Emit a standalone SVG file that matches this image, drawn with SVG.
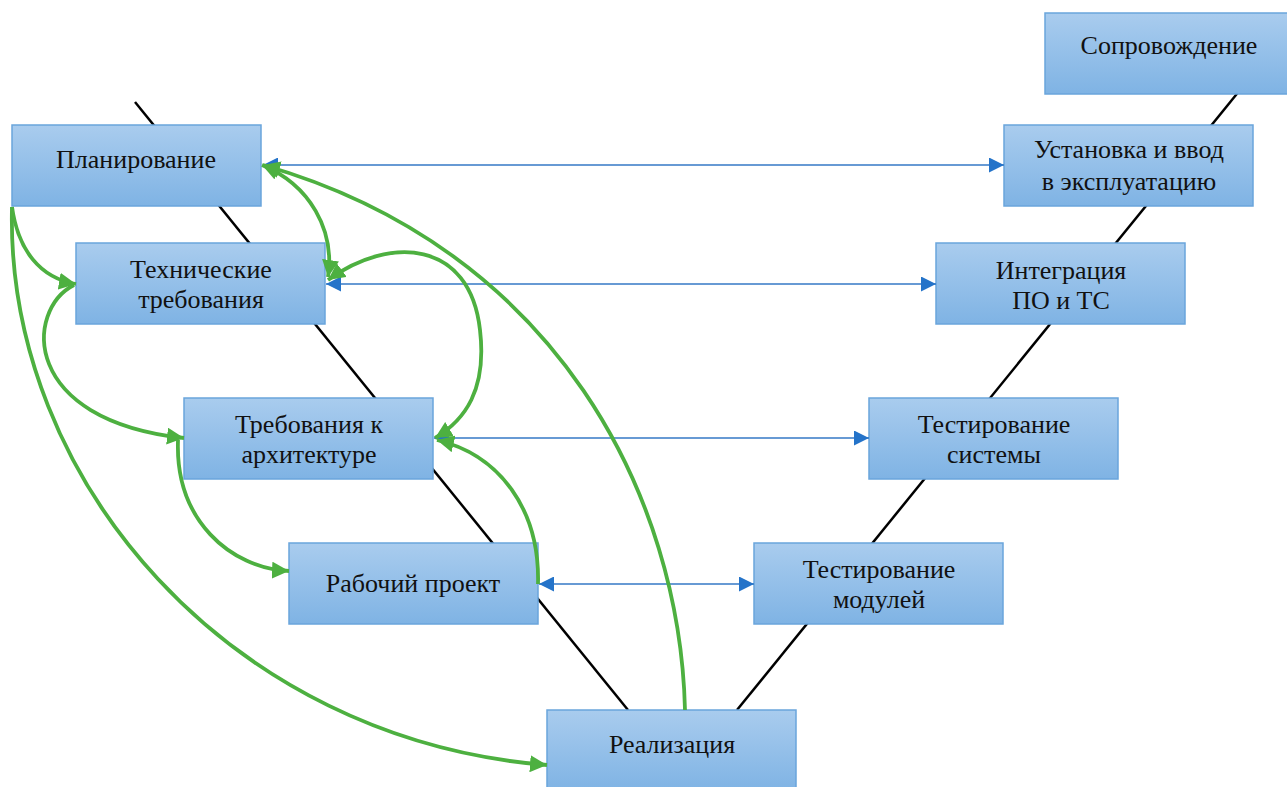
<svg xmlns="http://www.w3.org/2000/svg" width="1287" height="787" viewBox="0 0 1287 787">
<defs>
<linearGradient id="bg" x1="0" y1="0" x2="0" y2="1">
<stop offset="0" stop-color="#a9ccee"/>
<stop offset="1" stop-color="#7fb3e4"/>
</linearGradient>
<marker id="bh" viewBox="0 0 10 10" refX="10" refY="5" markerWidth="16" markerHeight="15" markerUnits="userSpaceOnUse" orient="auto-start-reverse">
<path d="M0,0 L10,5 L0,10 z" fill="#2473c9"/>
</marker>
<marker id="gh" viewBox="0 0 10 10" refX="10" refY="5" markerWidth="17" markerHeight="17" markerUnits="userSpaceOnUse" orient="auto-start-reverse">
<path d="M0,0 L10,5 L0,10 z" fill="#4db040"/>
</marker>
<style>
.box{fill:url(#bg);stroke:#6aa5dc;stroke-width:1.5}
.t{font-family:"Liberation Serif","Times New Roman",serif;font-size:26px;fill:#111;text-anchor:middle}
.v{stroke:#000;stroke-width:2.5;fill:none}
.b{stroke:#3579c6;stroke-width:1.6;fill:none;marker-start:url(#bh);marker-end:url(#bh)}
.g{stroke:#4db040;stroke-width:3.8;fill:none;marker-end:url(#gh)}
.g2{stroke:#4db040;stroke-width:3.8;fill:none;marker-start:url(#gh);marker-end:url(#gh)}
</style>
</defs>
<rect width="1287" height="787" fill="#fff"/>
<g id="v-shape">
<line class="v" x1="135" y1="102" x2="628" y2="710"/>
<line class="v" x1="737" y1="710" x2="1240" y2="90"/>
</g>
<g id="n-soprovozhdenie"><rect class="box" x="1045" y="13" width="249" height="81"/><text class="t" x="1169" y="54">Сопровождение</text></g>
<g id="n-planirovanie"><rect class="box" x="12" y="125" width="249" height="81"/><text class="t" x="136" y="168">Планирование</text></g>
<g id="n-ustanovka"><rect class="box" x="1004" y="125" width="249" height="81"/><text class="t" x="1129" y="158">Установка и ввод</text><text class="t" x="1129" y="190">в эксплуатацию</text></g>
<g id="n-tekh"><rect class="box" x="76" y="243" width="249" height="81"/><text class="t" x="201" y="278">Технические</text><text class="t" x="201" y="308">требования</text></g>
<g id="n-integr"><rect class="box" x="936" y="243" width="249" height="81"/><text class="t" x="1061" y="279">Интеграция</text><text class="t" x="1061" y="309">ПО и ТС</text></g>
<g id="n-arkh"><rect class="box" x="184" y="398" width="249" height="81"/><text class="t" x="309" y="433">Требования к</text><text class="t" x="309" y="463">архитектуре</text></g>
<g id="n-testsys"><rect class="box" x="869" y="398" width="249" height="81"/><text class="t" x="994" y="433">Тестирование</text><text class="t" x="994" y="463">системы</text></g>
<g id="n-rabochiy"><rect class="box" x="289" y="543" width="249" height="81"/><text class="t" x="413" y="592">Рабочий проект</text></g>
<g id="n-testmod"><rect class="box" x="754" y="543" width="249" height="81"/><text class="t" x="879" y="578">Тестирование</text><text class="t" x="879" y="608">модулей</text></g>
<g id="n-realiz"><rect class="box" x="547" y="710" width="249" height="81"/><text class="t" x="672" y="753">Реализация</text></g>
<g id="connectors">
<path class="b" d="M263,165 L1004,165"/>
<path class="b" d="M326,284 L936,284"/>
<path class="b" d="M434,438 L869,438"/>
<path class="b" d="M539,584 L754,584"/>
<path class="g" d="M12,207 C18,250 40,278 76,284"/>
<path class="g" d="M12,207 C5,480 230,740 547,765"/>
<path class="g" d="M74,285 C25,310 20,420 184,438"/>
<path class="g" d="M178,440 C175,520 230,568 289,571"/>
<path class="g2" d="M262,165 C310,185 335,230 328,277"/>
<path class="g2" d="M328,280 C390,235 470,240 480,330 C487,390 465,420 435,438"/>
<path class="g" d="M538,584 C540,510 500,455 437,440"/>
<path class="g" d="M685,710 C680,500 560,250 263,165"/>
</g>
</svg>
